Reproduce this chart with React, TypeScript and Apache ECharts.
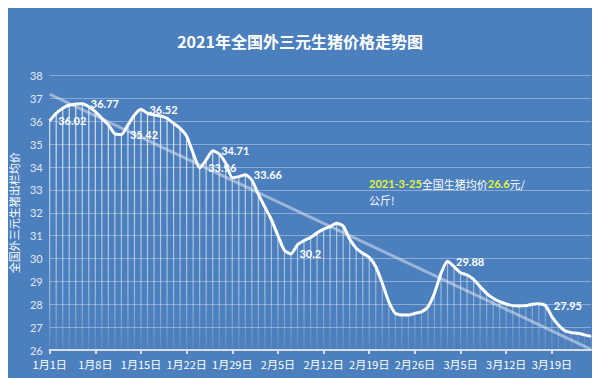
import React, { useEffect, useRef } from "react";
import * as echarts from "echarts";

const monthLengths = [31, 28, 31];
const dayCount = 84;

const prices = [
  36.02, 36.35, 36.57, 36.71, 36.75, 36.77, 36.64, 36.42, 36.13, 35.84,
  35.45, 35.42, 35.84, 36.27, 36.52, 36.35, 36.28, 36.23, 36.13, 35.91,
  35.69, 35.35, 34.6, 33.96, 34.31, 34.71, 34.57, 34.16, 33.53, 33.58,
  33.66, 33.43, 32.8, 32.25, 31.7, 31.0, 30.35, 30.2, 30.6, 30.78,
  30.92, 31.12, 31.28, 31.4, 31.54, 31.42, 30.85, 30.45, 30.23, 30.05,
  29.64, 28.92, 28.11, 27.6, 27.53, 27.53, 27.6, 27.67, 27.89, 28.48,
  29.35, 29.88, 29.64, 29.38, 29.28, 29.09, 28.77, 28.48, 28.26, 28.11,
  28.01, 27.94, 27.92, 27.94, 28.0, 28.02, 27.95, 27.46, 27.09, 26.84,
  26.76, 26.73, 26.66, 26.6,
];

const labelIndices = [0, 5, 11, 14, 23, 25, 30, 37, 61, 76];
const trendEnds = [37.18, 26.03];

const yMin = 26;
const yMax = 38;
const yStep = 1;

const titleText = "2021年全国外三元生猪价格走势图";
const yAxisName = "全国外三元生猪出栏均价";
const noteDate = "2021-3-25";
const notePrice = "26.6";

function buildCategories(): string[] {
  const out: string[] = [];
  for (let m = 0; m < monthLengths.length; m++) {
    for (let d = 1; d <= monthLengths[m]; d++) {
      if (out.length < dayCount) out.push(`${m + 1}月${d}日`);
    }
  }
  return out;
}

export default function App() {
  const ref = useRef<HTMLDivElement>(null);

  useEffect(() => {
    if (!ref.current) return;
    const chart = echarts.init(ref.current, undefined, { renderer: "svg" });
    const categories = buildCategories();

    const trendData = prices.map((_, i) =>
      i === 0 ? trendEnds[0] : i === prices.length - 1 ? trendEnds[1] : null
    );

    const priceData = prices.map((v, i) =>
      labelIndices.includes(i)
        ? {
            value: v,
            label: {
              show: true,
              position: "right",
              distance: 8,
              color: "#ffffff",
              fontSize: 11,
              fontWeight: "bold",
              fontFamily: "Lato, sans-serif",
            },
          }
        : v
    );

    const dropColor = new echarts.graphic.LinearGradient(
      0,
      75,
      0,
      350,
      [
        { offset: 0, color: "rgba(255,255,255,0.85)" },
        { offset: 0.8, color: "rgba(255,255,255,0.45)" },
        { offset: 1, color: "rgba(255,255,255,0.08)" },
      ],
      true
    );

    chart.setOption({
      animation: false,
      backgroundColor: "#4b7fbd",
      title: {
        text: titleText,
        left: "center",
        top: 28,
        textStyle: {
          color: "#ffffff",
          fontSize: 16,
          fontWeight: "bold",
          fontFamily: "'Noto Sans CJK SC', sans-serif",
        },
      },
      grid: { left: 38, right: 9, top: 75.5, bottom: 28 },
      xAxis: {
        type: "category",
        data: categories,
        boundaryGap: false,
        axisLine: { lineStyle: { color: "#d9dde4", width: 2 } },
        axisTick: { show: true, interval: 6, length: 4, lineStyle: { color: "#d9dde4", width: 2 } },
        axisLabel: {
          interval: 6,
          color: "#ffffff",
          fontSize: 11,
          lineHeight: 12,
          margin: 8,
          fontFamily: "'Noto Sans CJK SC', sans-serif",
        },
        splitLine: { show: false },
      },
      yAxis: {
        type: "value",
        min: yMin,
        max: yMax,
        interval: yStep,
        name: yAxisName,
        nameLocation: "middle",
        nameRotate: 90,
        nameGap: 24,
        nameTextStyle: {
          color: "#ffffff",
          fontSize: 11,
          fontFamily: "'Noto Sans CJK SC', serif",
        },
        axisLine: { show: false },
        axisTick: { show: false },
        axisLabel: {
          color: "#e2e9f3",
          fontSize: 11,
          lineHeight: 10,
          margin: 7,
          fontFamily: "Lato, sans-serif",
        },
        splitLine: { lineStyle: { color: "rgba(255,255,255,0.35)", width: 1 } },
      },
      series: [
        {
          type: "bar",
          data: prices,
          barWidth: 1.2,
          silent: true,
          itemStyle: { color: dropColor },
          z: 1,
        },
        {
          type: "line",
          data: trendData,
          connectNulls: true,
          showSymbol: false,
          symbol: "none",
          silent: true,
          lineStyle: { color: "rgba(222,228,238,0.55)", width: 3 },
          z: 2,
        },
        {
          type: "line",
          data: priceData,
          smooth: 0.2,
          symbol: "circle",
          symbolSize: 1,
          showSymbol: true,
          showAllSymbol: true,
          itemStyle: { color: "#ffffff" },
          lineStyle: { color: "#ffffff", width: 3 },
          z: 3,
        },
      ],
      graphic: [
        {
          type: "text",
          left: 369,
          top: 178,
          z: 10,
          style: {
            text: `{y|${noteDate}}{w|全国生猪均价}{y|${notePrice}}{w|元/}\n{w|公斤!}`,
            rich: {
              y: {
                fill: "#e4f53a",
                fontSize: 11,
                fontWeight: "bold",
                lineHeight: 16,
                fontFamily: "Lato, sans-serif",
              },
              w: {
                fill: "#ffffff",
                fontSize: 11,
                lineHeight: 16,
                fontFamily: "'Noto Sans CJK SC', sans-serif",
              },
            },
          },
        },
      ],
    });

    return () => chart.dispose();
  }, []);

  return <div ref={ref} style={{ width: 600, height: 378, marginLeft: -8, marginTop: -8 }} />;
}
